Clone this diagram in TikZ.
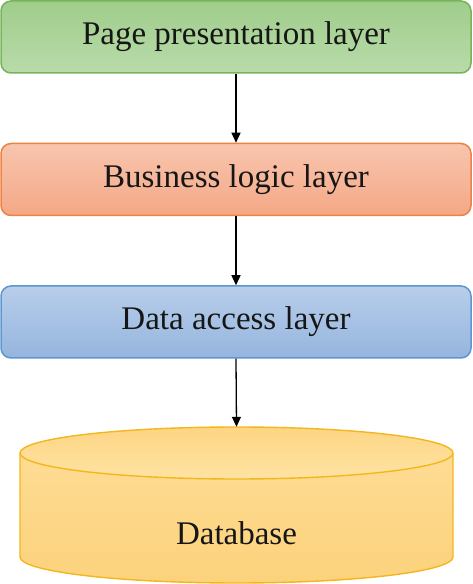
\documentclass[tikz,border=0pt]{standalone}
\usepackage{fontspec}
\setmainfont{Liberation Serif}
\usetikzlibrary{arrows.meta}
\definecolor{gbord}{HTML}{78B35A}
\definecolor{gtop}{HTML}{9FCD8B}
\definecolor{gbot}{HTML}{B9DBAA}
\definecolor{obord}{HTML}{EE8244}
\definecolor{otop}{HTML}{F8C5AE}
\definecolor{obot}{HTML}{F4A886}
\definecolor{bbord}{HTML}{5E96CF}
\definecolor{btop}{HTML}{B8CEEA}
\definecolor{bbot}{HTML}{95B5DE}
\definecolor{ybord}{HTML}{F3B71E}
\definecolor{ytop}{HTML}{FFE3A3}
\definecolor{ybot}{HTML}{FCD27C}
\definecolor{txt}{HTML}{161616}
\tikzset{
  layer/.style={draw, line width=1.5pt, rounded corners=10pt, minimum width=470pt,
    minimum height=72pt, inner sep=0pt, text height=23pt, text depth=7pt,
    text=txt, font=\fontsize{33}{40}\selectfont},
  conn/.style={line width=1.3pt, -{Triangle[length=10pt,width=9pt]}},
  dbtext/.style={text=txt, font=\fontsize{33}{40}\selectfont, inner sep=0pt}
}
\begin{document}
\begin{tikzpicture}[x=1pt,y=1pt]
\useasboundingbox (0,0) rectangle (473,584);
\node[layer, draw=gbord, top color=gtop, bottom color=gbot] (page) at (236,547) {Page presentation layer};
\node[layer, draw=obord, top color=otop, bottom color=obot] (biz) at (236,404.5) {Business logic layer};
\node[layer, draw=bbord, top color=btop, bottom color=bbot] (data) at (236,262) {Data access layer};
% cylinder
\node[minimum width=433pt, minimum height=156pt, inner sep=0pt] (db) at (236.5,79) {};
\shade[top color=ytop!70!ybot, bottom color=ybot]
  (20,131) -- (20,27) arc[start angle=180, end angle=360, x radius=216.5, y radius=26]
  -- (453,131) arc[start angle=0, end angle=180, x radius=216.5, y radius=26] -- cycle;
\shade[top color=ybot!80!ytop, bottom color=ytop] (236.5,131) ellipse[x radius=216.5, y radius=26];
\draw[ybord, line width=1.4pt]
  (20,131) -- (20,27) arc[start angle=180, end angle=360, x radius=216.5, y radius=26]
  -- (453,131) arc[start angle=0, end angle=180, x radius=216.5, y radius=26] -- cycle;
\draw[ybord, line width=1.4pt] (20,131) arc[start angle=180, end angle=360, x radius=216.5, y radius=26];
\node[dbtext] (dbl) at (236.5,51) {Database};
\draw[conn] (page.south) -- (biz.north);
\draw[conn] (biz.south) -- (data.north);
\draw[conn] (data.south) -- (db.north);
\end{tikzpicture}
\end{document}
